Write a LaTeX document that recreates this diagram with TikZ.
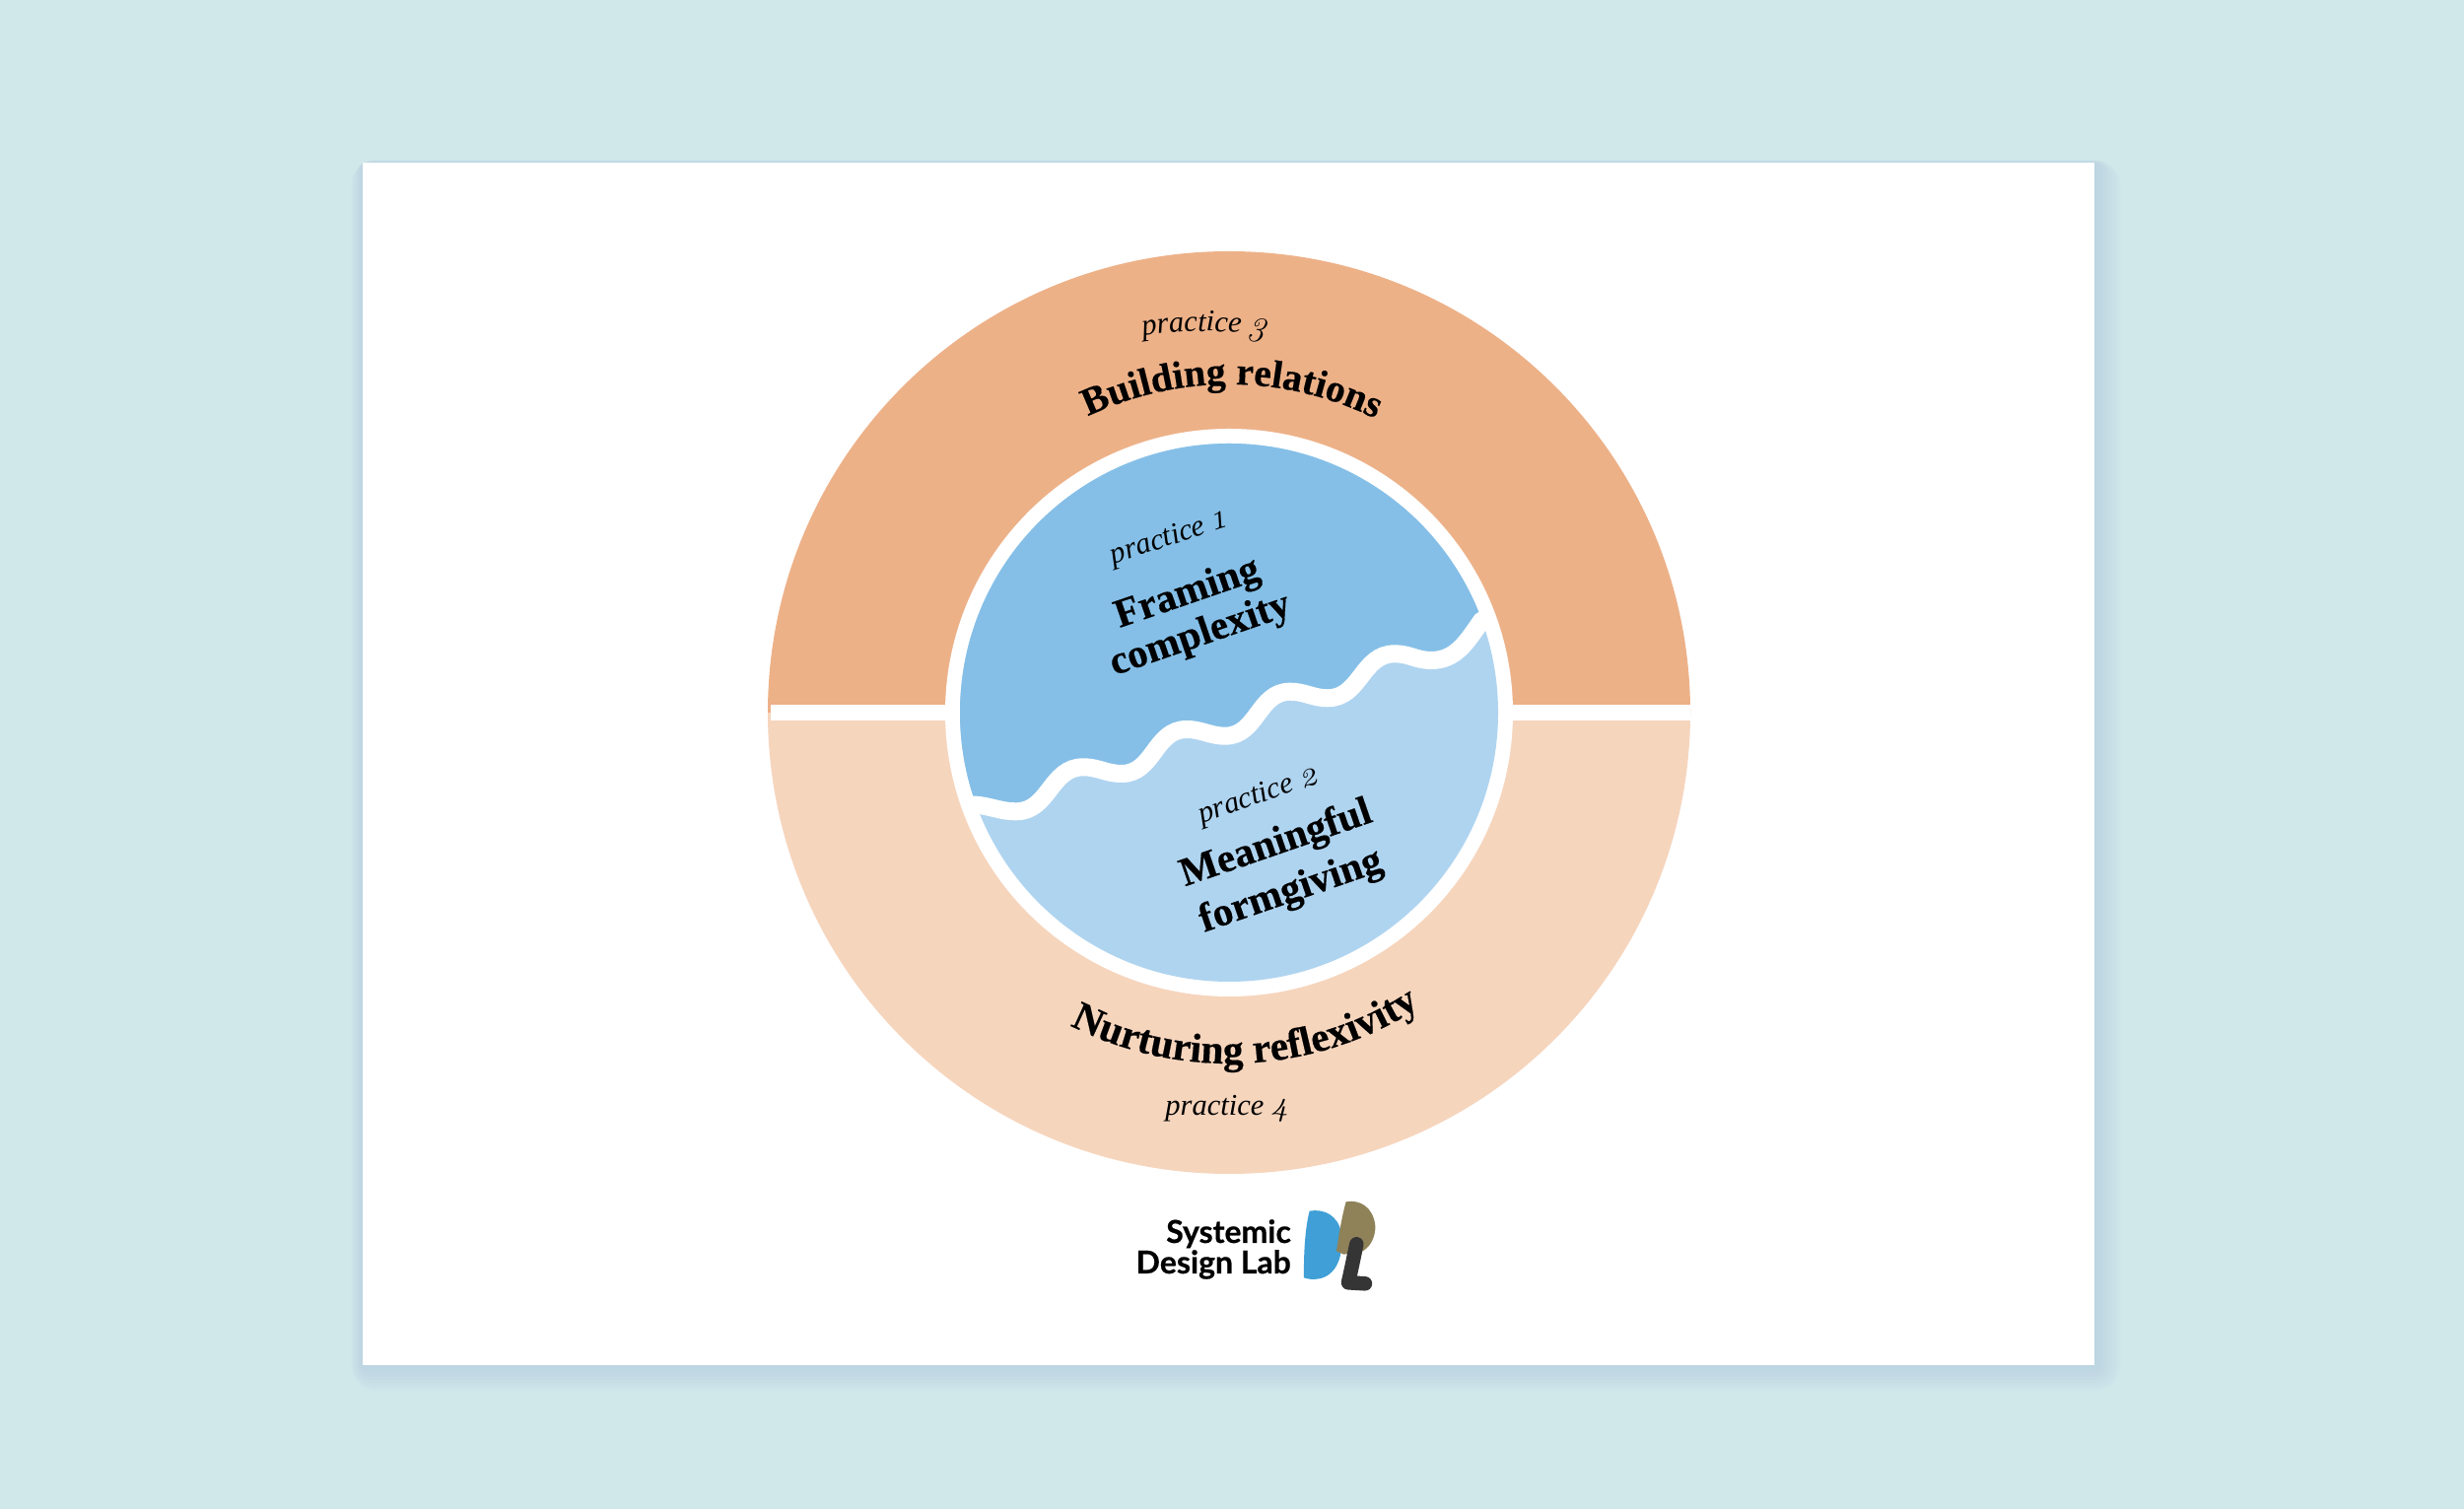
\documentclass[tikz,border=0pt]{standalone}
\usepackage{fontspec}
\usetikzlibrary{decorations.text}
\newfontfamily\headfont[BoldFeatures={FakeBold=0.35}]{Liberation Serif}
\newfontfamily\practfont{Liberation Serif}
\newfontfamily\digitfont[Numbers=OldStyle]{Latin Modern Roman}
\newfontfamily\logofont[BoldFeatures={FakeBold=0.5}]{Lato}
\definecolor{pagebg}{HTML}{D1E8EB}
\definecolor{shadowc}{HTML}{B4CBE0}
\definecolor{ringdark}{HTML}{EDB188}
\definecolor{ringlight}{HTML}{F6D5BD}
\definecolor{bluedark}{HTML}{85BFE7}
\definecolor{bluelight}{HTML}{AFD4F0}
\definecolor{logoblue}{HTML}{3F9FD6}
\definecolor{logotan}{HTML}{8F8259}
\definecolor{logodark}{HTML}{353535}
\newcommand{\headtype}{\headfont\bfseries\fontsize{41}{44}\selectfont}
\newcommand{\arctype}{\headfont\bfseries\fontsize{39.5}{44}\selectfont}
\newcommand{\arclow}{\headfont\bfseries\fontsize{41.5}{44}\selectfont}
\newcommand{\practype}{\practfont\itshape\fontsize{30.5}{34}\selectfont}
\newcommand{\digtype}{\digitfont\itshape\fontsize{36}{34}\selectfont}
\tikzset{
  headnode/.style={inner sep=0pt,font=\headtype,text=black,rotate=19},
  practnode/.style={inner sep=0pt,font=\practype,text=black},
  wavepath/.style={insert path={
    (960,716) to[out=0,in=180] (985,714.5) to[out=0,in=180] (1031,707.7)
    to[out=0,in=180,looseness=1.05] (1099,752.7) to[out=0,in=180] (1138,746)
    to[out=0,in=180,looseness=1.05] (1204,791) to[out=0,in=180] (1243,784.3)
    to[out=0,in=180,looseness=1.05] (1309,829.3) to[out=0,in=180] (1347,822.7)
    to[out=0,in=180,looseness=1.05] (1415,867.7) to[out=0,in=180] (1452,861)
    to[out=0,in=235] (1503,901) -- (1520,912)}},
  logotext/.style={inner sep=0pt,font=\logofont\bfseries\fontsize{32}{34}\selectfont,text=black,anchor=base east}
}
\begin{document}
\begin{tikzpicture}[x=1pt,y=1pt]
\useasboundingbox (0,0) rectangle (2500,1531);
\fill[pagebg] (0,0) rectangle (2500,1531);
% card shadow
\foreach \e in {3,6,...,27}{
  \fill[shadowc,opacity=0.08,rounded corners=\e pt] (368-0.45*\e,146-\e) rectangle (2125+\e,1366+0.1*\e);
}
\fill[white] (368,146) rectangle (2125,1366);
% outer ring halves
\fill[ringlight] (779,808) arc[start angle=180,end angle=360,radius=468] -- cycle;
\fill[ringdark] (779,808) arc[start angle=180,end angle=0,radius=468] -- cycle;
\fill[white] (782,800) rectangle (1715,815.5);
\fill[white] (1247,808) circle[radius=288];
% inner circle
\fill[bluelight] (1247,808) circle[radius=273];
\begin{scope}
  \clip (1247,808) circle[radius=273];
  \fill[bluedark,wavepath] -- (1600,912) -- (1600,1200) -- (900,1200) -- (900,716) -- cycle;
\end{scope}
\begin{scope}
  \clip (1247,808) circle[radius=280];
  \draw[white,line width=18pt,wavepath];
\end{scope}
% curved labels
\path[decorate,decoration={text along path,text align=center,
  text={|\arctype|Building relations}}]
  (1247,808) ++(149.5:333) arc[start angle=149.5,end angle=29.5,radius=333];
\path[decorate,decoration={text along path,text align=center,
  text={|\practype|practice |\digtype|3}}]
  (1222,808) ++(125:387) arc[start angle=125,end angle=55,radius=387];
\path[decorate,decoration={text along path,text align=center,
  text={|\arclow|Nurturing reflexivity}}]
  (1247,808) ++(217:356) arc[start angle=217,end angle=329,radius=356];
\node[practnode,anchor=base] (p4) at (1245,399) {practice {\digtype 4}};
% inner labels
\node[practnode,rotate=18] (p1) at (1185,984) {practice {\digtype 1}};
\node[headnode] (l1a) at (1205,928) {Framing};
\node[headnode] (l1b) at (1218,886) {complexity};
\node[practnode,rotate=19] (p2) at (1277,723) {practice {\digtype 2}};
\node[headnode] (l2a) at (1295,674) {Meaningful};
\node[headnode] (l2b) at (1310,626) {formgiving};
% logo
\node[logotext] (lg1) at (1310,270) {Systemic};
\node[logotext] (lg2) at (1310,239) {Design Lab};
\begin{scope}[shift={(1100,351)},x=0.3333pt,y=-0.3333pt]
  \fill[logoblue] (686,146) .. controls (730,138) and (775,160) .. (783,215)
    .. controls (790,280) and (770,345) .. (710,353)
    .. controls (695,355) and (680,353) .. (669,349)
    .. controls (668,280) and (672,200) .. (686,146) -- cycle;
  \fill[logotan] (797,118) .. controls (840,110) and (880,135) .. (886,190)
    .. controls (888,225) and (870,260) .. (840,272)
    -- (790,278) -- (768,268)
    .. controls (775,220) and (785,160) .. (797,118) -- cycle;
  \draw[logodark,line width=14.5pt,line cap=round,line join=round]
    (829,247) .. controls (820,290) and (812,330) .. (804,364) -- (855,367);
\end{scope}
\end{tikzpicture}
\end{document}
